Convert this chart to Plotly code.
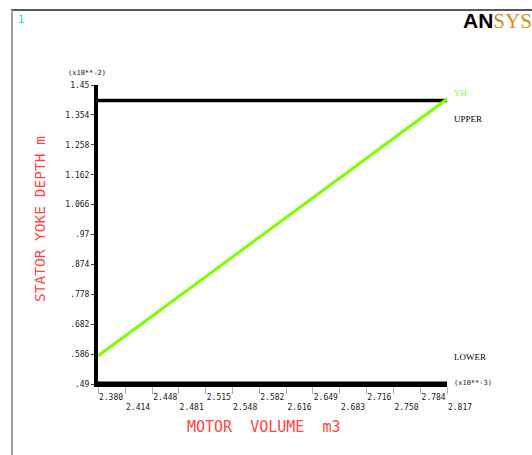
import plotly.graph_objects as go

# Data (values in units shown by axis multipliers)
x_ticks = [2.380, 2.414, 2.448, 2.481, 2.515, 2.548, 2.582, 2.616, 2.649, 2.683, 2.716, 2.750, 2.784, 2.817]
x_tick_labels = ["2.380", "2.414", "2.448", "2.481", "2.515", "2.548", "2.582", "2.616", "2.649", "2.683", "2.716", "2.750", "2.784", "2.817"]
y_ticks = [0.49, 0.586, 0.682, 0.778, 0.874, 0.97, 1.066, 1.162, 1.258, 1.354, 1.45]
y_tick_labels = [".49", ".586", ".682", ".778", ".874", ".97", "1.066", "1.162", "1.258", "1.354", "1.45"]

motor_volume = [2.380, 2.817]
yh_values = [0.58, 1.405]
upper_values = [1.40, 1.40]
lower_values = [0.49, 0.49]

W, H = 532, 455
L, R, T, B = 98, 85, 85, 71
PW, PH = W - L - R, H - T - B


def px(xpix):
    return (xpix - L) / PW


def py(ypix):
    return (H - B - ypix) / PH


TICKFONT = dict(family="DejaVu Sans Mono", size=8, color="#202020")
RED = "#ff4545"

fig = go.Figure()
fig.add_trace(go.Scatter(x=motor_volume, y=upper_values, mode="lines",
                         line=dict(color="black", width=3.5), name="UPPER"))
fig.add_trace(go.Scatter(x=motor_volume, y=lower_values, mode="lines",
                         line=dict(color="black", width=5), name="LOWER"))
fig.add_trace(go.Scatter(x=motor_volume, y=yh_values, mode="lines",
                         line=dict(color="#7fff00", width=3), name="YH"))

x_text = [lab if i % 2 == 0 else "<br>" + lab for i, lab in enumerate(x_tick_labels)]

fig.update_layout(
    width=W, height=H,
    margin=dict(l=L, r=R, t=T, b=B),
    paper_bgcolor="white", plot_bgcolor="white",
    showlegend=False,
    xaxis=dict(range=[x_ticks[0], x_ticks[-1]], tickmode="array", tickvals=x_ticks,
               ticktext=x_text, tickfont=TICKFONT, ticks="outside", ticklen=7,
               tickcolor="#b0b0b0", tickwidth=1, showgrid=False, zeroline=False,
               showline=True, linecolor="black", linewidth=3,
               ticklabelshift=13, ticklabelstandoff=-4,
               automargin=False),
    yaxis=dict(range=[y_ticks[0], y_ticks[-1]], tickmode="array", tickvals=y_ticks,
               ticktext=y_tick_labels, tickfont=TICKFONT, ticks="outside", ticklen=3,
               tickcolor="#404040", showgrid=False, zeroline=False,
               showline=True, linecolor="black", linewidth=4,
               automargin=False),
)

annos = [
    dict(x=px(264), y=py(427), xref="paper", yref="paper", text="MOTOR  VOLUME  m3",
         xanchor="center", yanchor="middle", showarrow=False,
         font=dict(family="DejaVu Sans Mono", size=15, color=RED)),
    dict(x=px(40), y=py(219), xref="paper", yref="paper", text="STATOR YOKE DEPTH m",
         textangle=-90, xanchor="center", yanchor="middle", showarrow=False,
         font=dict(family="DejaVu Sans Mono", size=14.5, color=RED)),
    dict(x=motor_volume[-1], y=yh_values[-1], xref="x", yref="y", text="YH",
         xanchor="left", yanchor="middle", xshift=5, yshift=6, showarrow=False,
         font=dict(family="Liberation Serif", size=9, color="#80ff20")),
    dict(x=motor_volume[-1], y=upper_values[-1], xref="x", yref="y", text="UPPER",
         xanchor="left", yanchor="middle", xshift=5, yshift=-18, showarrow=False,
         font=dict(family="Liberation Serif", size=9, color="black")),
    dict(x=motor_volume[-1], y=lower_values[-1], xref="x", yref="y", text="LOWER",
         xanchor="left", yanchor="middle", xshift=5, yshift=27, showarrow=False,
         font=dict(family="Liberation Serif", size=9, color="black")),
    dict(x=1, y=0, xref="paper", yref="paper", text="(x10**-3)",
         xanchor="left", yanchor="middle", xshift=5, yshift=1, showarrow=False,
         font=dict(family="DejaVu Sans Mono", size=7, color="#202020")),
    dict(x=0, y=1, xref="paper", yref="paper", text="(x10**-2)",
         xanchor="center", yanchor="middle", xshift=-11, yshift=12, showarrow=False,
         font=dict(family="DejaVu Sans Mono", size=7, color="#202020")),
    dict(x=px(16), y=py(20), xref="paper", yref="paper", text="1",
         xanchor="left", yanchor="middle", showarrow=False,
         font=dict(family="DejaVu Sans Mono", size=10, color="#00e8f0")),
    dict(x=px(534), y=py(21), xref="paper", yref="paper",
         text="<b>AN</b><span style='font-family:Liberation Serif;color:#d09020'>SYS</span>",
         xanchor="right", yanchor="middle", showarrow=False,
         font=dict(family="Liberation Sans", size=21, color="black")),
]
fig.update_layout(annotations=annos)

# page frame
fig.add_shape(type="line", xref="paper", yref="paper",
              x0=px(11), x1=px(532), y0=py(10), y1=py(10),
              line=dict(color="#202020", width=1.5))
fig.add_shape(type="line", xref="paper", yref="paper",
              x0=px(12), x1=px(12), y0=py(10), y1=py(455),
              line=dict(color="#a0a0a0", width=2))

fig.write_html("out.html", config={"displayModeBar": False},
               post_script="document.body.style.margin='0';document.body.style.padding='0';")
